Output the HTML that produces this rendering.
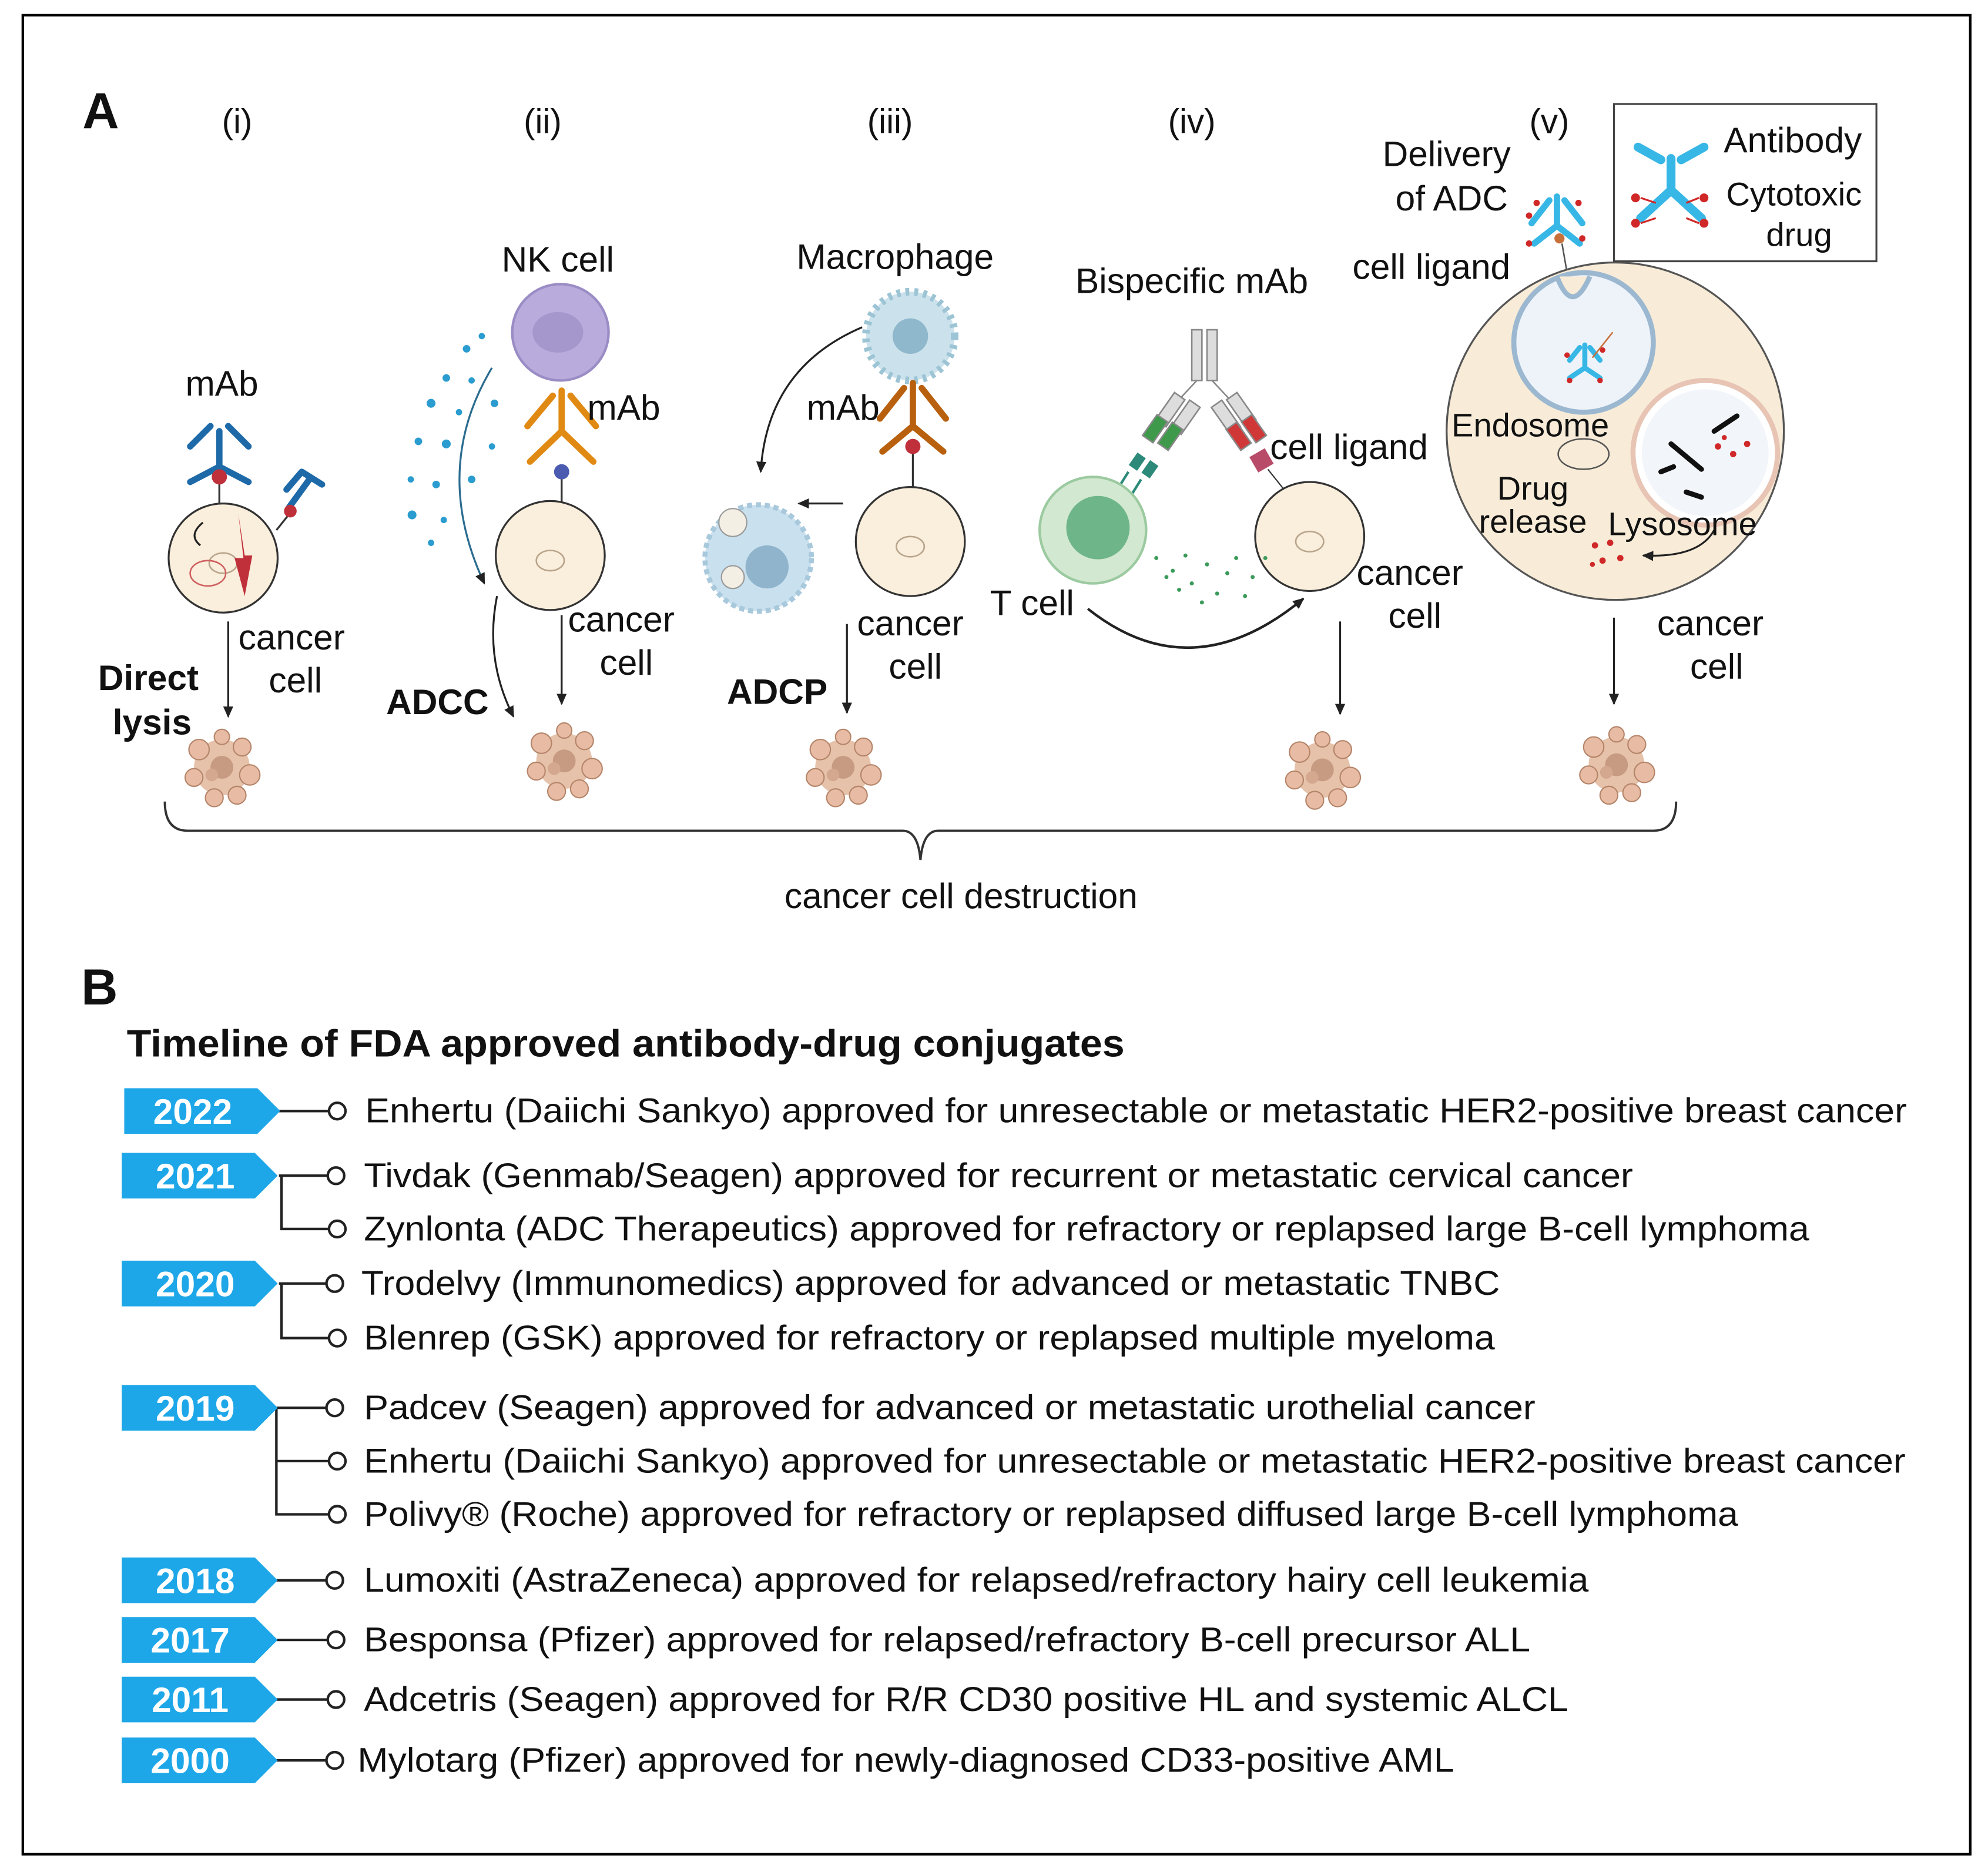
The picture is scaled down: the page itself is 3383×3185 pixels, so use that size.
<!DOCTYPE html>
<html><head><meta charset="utf-8"><style>
html,body{margin:0;padding:0;background:#fff;}
svg{display:block;}
text{font-family:"Liberation Sans",Arial,sans-serif;fill:#111;}
</style></head><body>
<svg width="3383" height="3185" viewBox="0 0 1568 1476" preserveAspectRatio="none" xmlns="http://www.w3.org/2000/svg">
<defs>
<marker id="ah" markerWidth="10" markerHeight="10" refX="8" refY="5" orient="auto" markerUnits="userSpaceOnUse"><path d="M0,1 L9,5 L0,9 z" fill="#222"/></marker>
<g id="blob">
<circle cx="0" cy="0" r="22" fill="#e6c2aa"/>
<circle cx="-18" cy="-14" r="8" fill="#e8bca4" stroke="#b5856a" stroke-width="1"/>
<circle cx="16" cy="-16" r="7" fill="#e8bca4" stroke="#b5856a" stroke-width="1"/>
<circle cx="22" cy="6" r="8" fill="#e8bca4" stroke="#b5856a" stroke-width="1"/>
<circle cx="-22" cy="8" r="7" fill="#e8bca4" stroke="#b5856a" stroke-width="1"/>
<circle cx="-6" cy="24" r="7" fill="#e8bca4" stroke="#b5856a" stroke-width="1"/>
<circle cx="12" cy="22" r="7" fill="#e8bca4" stroke="#b5856a" stroke-width="1"/>
<circle cx="0" cy="-24" r="6" fill="#e8bca4" stroke="#b5856a" stroke-width="1"/>
<circle cx="0" cy="0" r="9" fill="#c79a82"/>
<circle cx="-8" cy="6" r="5" fill="#d4a88f"/>
</g>
<g id="cell">
<circle cx="0" cy="0" r="43" fill="#faeedc" stroke="#333" stroke-width="1.5"/>
<ellipse cx="0" cy="4" rx="11" ry="8" fill="none" stroke="#b8a58c" stroke-width="1.2"/>
</g>
<polygon id="badge" points="0,0 105,0 123,18 105,36 0,36" fill="#1ea7e8"/>
</defs>
<rect x="18" y="12" width="1536" height="1450" fill="#fff" stroke="#000" stroke-width="2"/>

<text x="65" y="101" font-size="40" font-weight="bold">A</text>
<g font-size="27" text-anchor="middle">
<text x="187" y="105">(i)</text><text x="428" y="105">(ii)</text><text x="702" y="105">(iii)</text><text x="940" y="105">(iv)</text><text x="1222" y="105">(v)</text>
</g>

<!-- panel i -->
<text x="175" y="312" font-size="28" text-anchor="middle">mAb</text>
<g stroke="#1e6aa8" stroke-width="5" fill="none" stroke-linecap="round">
<path d="M173,368 L173,340 M173,368 L150,380 M173,368 L196,380 M166,336 L150,352 M180,336 L196,352"/>
<path d="M228,400 L244,378 M238,372 L254,382 M226,386 L238,372"/>
</g>
<line x1="173" y1="372" x2="173" y2="398" stroke="#333" stroke-width="1.5"/>
<circle cx="173" cy="376" r="6" fill="#c0303a"/>
<use href="#cell" x="176" y="440"/>
<line x1="218" y1="418" x2="230" y2="403" stroke="#333" stroke-width="1.5"/>
<circle cx="229" cy="403" r="5" fill="#c0303a"/>
<path d="M188,405 L192,440 L185,440 L193,470 L199,438 L193,438 Z" fill="#c0303a"/>
<ellipse cx="164" cy="452" rx="14" ry="10" fill="none" stroke="#d06060" stroke-width="1.2"/>
<path d="M160,412 q-12,10 -2,18" fill="none" stroke="#222" stroke-width="1.5"/>
<line x1="180" y1="490" x2="180" y2="565" stroke="#222" stroke-width="1.5" marker-end="url(#ah)"/>
<text x="230" y="512" font-size="28" text-anchor="middle">cancer</text>
<text x="233" y="546" font-size="28" text-anchor="middle">cell</text>
<text x="117" y="544" font-size="28" font-weight="bold" text-anchor="middle">Direct</text>
<text x="120" y="579" font-size="28" font-weight="bold" text-anchor="middle">lysis</text>
<use href="#blob" x="175" y="605"/>

<!-- panel ii -->
<text x="440" y="214" font-size="28" text-anchor="middle">NK cell</text>
<circle cx="442" cy="262" r="38" fill="#b9acdc" stroke="#9a8cc4" stroke-width="2"/>
<ellipse cx="440" cy="262" rx="20" ry="16" fill="#a596cc"/>
<g stroke="#e08a14" stroke-width="5" fill="none" stroke-linecap="round">
<path d="M443,340 L443,308 M443,340 L418,364 M443,340 L468,364 M436,312 L416,336 M450,312 L470,336"/>
</g>
<line x1="443" y1="372" x2="443" y2="398" stroke="#333" stroke-width="1.5"/>
<circle cx="443" cy="372" r="6" fill="#4a5bb0"/>
<text x="492" y="331" font-size="28" text-anchor="middle">mAb</text>
<use href="#cell" x="434" y="438"/>
<g fill="#2a9ccf">
<circle cx="368" cy="275" r="3"/><circle cx="380" cy="265" r="2.5"/><circle cx="352" cy="298" r="3"/><circle cx="372" cy="300" r="2.5"/><circle cx="340" cy="318" r="3.5"/><circle cx="362" cy="325" r="2.5"/><circle cx="330" cy="348" r="3"/><circle cx="352" cy="350" r="3.5"/><circle cx="324" cy="378" r="2.5"/><circle cx="344" cy="382" r="3"/><circle cx="372" cy="378" r="3"/><circle cx="325" cy="406" r="3.5"/><circle cx="350" cy="410" r="2.5"/><circle cx="340" cy="428" r="2.5"/><circle cx="390" cy="318" r="3"/><circle cx="388" cy="352" r="2.5"/>
</g>
<path d="M388,290 Q340,370 382,460" fill="none" stroke="#2b6c8f" stroke-width="1.5" marker-end="url(#ah)"/>
<path d="M392,470 Q382,520 405,565" fill="none" stroke="#222" stroke-width="1.5" marker-end="url(#ah)"/>
<line x1="443" y1="485" x2="443" y2="555" stroke="#222" stroke-width="1.5" marker-end="url(#ah)"/>
<text x="490" y="498" font-size="28" text-anchor="middle">cancer</text>
<text x="494" y="532" font-size="28" text-anchor="middle">cell</text>
<text x="345" y="563" font-size="28" font-weight="bold" text-anchor="middle">ADCC</text>
<use href="#blob" x="445" y="600"/>

<!-- panel iii -->
<text x="706" y="212" font-size="28" text-anchor="middle">Macrophage</text>
<circle cx="718" cy="265" r="35" fill="#cbe2ec" stroke="#9cc4d4" stroke-width="6" stroke-dasharray="3 4"/>
<circle cx="718" cy="265" r="14" fill="#8fb8cc"/>
<text x="665" y="331" font-size="28" text-anchor="middle">mAb</text>
<g stroke="#b8600e" stroke-width="5" fill="none" stroke-linecap="round">
<path d="M720,336 L720,302 M720,336 L696,356 M720,336 L744,356 M713,306 L694,330 M727,306 L746,330"/>
</g>
<line x1="720" y1="352" x2="720" y2="385" stroke="#333" stroke-width="1.5"/>
<circle cx="720" cy="352" r="6" fill="#c0303a"/>
<use href="#cell" x="718" y="427"/>
<line x1="665" y1="397" x2="630" y2="397" stroke="#222" stroke-width="1.5" marker-end="url(#ah)"/>
<circle cx="598" cy="440" r="42" fill="#c9e0ee" stroke="#a8c8dc" stroke-width="4" stroke-dasharray="4 3"/>
<circle cx="605" cy="447" r="17" fill="#8fb4cc"/>
<circle cx="578" cy="412" r="11" fill="#f4efe4" stroke="#999"/>
<circle cx="578" cy="455" r="9" fill="#f4efe4" stroke="#999"/>
<path d="M680,258 Q605,290 600,372" fill="none" stroke="#222" stroke-width="1.5" marker-end="url(#ah)"/>
<line x1="668" y1="492" x2="668" y2="562" stroke="#222" stroke-width="1.5" marker-end="url(#ah)"/>
<text x="718" y="501" font-size="28" text-anchor="middle">cancer</text>
<text x="722" y="535" font-size="28" text-anchor="middle">cell</text>
<text x="613" y="555" font-size="28" font-weight="bold" text-anchor="middle">ADCP</text>
<use href="#blob" x="665" y="605"/>

<!-- panel iv -->
<text x="940" y="231" font-size="28" text-anchor="middle">Bispecific mAb</text>
<g stroke="#888" stroke-width="1.2">
<rect x="940" y="260" width="8" height="40" fill="#ddd"/><rect x="952" y="260" width="8" height="40" fill="#ddd"/>
<path d="M944,300 L930,315 M956,300 L970,315" fill="none"/>
<rect x="918" y="310" width="10" height="26" fill="#ddd" transform="rotate(35 923 323)"/>
<rect x="930" y="316" width="10" height="26" fill="#ddd" transform="rotate(35 935 329)"/>
<rect x="906" y="328" width="10" height="20" fill="#3e9a4a" transform="rotate(35 911 338)"/>
<rect x="918" y="334" width="10" height="20" fill="#3e9a4a" transform="rotate(35 923 344)"/>
<rect x="962" y="316" width="10" height="26" fill="#ddd" transform="rotate(-35 967 329)"/>
<rect x="974" y="310" width="10" height="26" fill="#ddd" transform="rotate(-35 979 323)"/>
<rect x="972" y="334" width="10" height="20" fill="#d03838" transform="rotate(-35 977 344)"/>
<rect x="984" y="328" width="10" height="20" fill="#d03838" transform="rotate(-35 989 338)"/>
</g>
<g fill="#2d8a7a"><rect x="893" y="358" width="8" height="12" transform="rotate(35 897 364)"/><rect x="903" y="364" width="8" height="12" transform="rotate(35 907 370)"/></g>
<path d="M890,372 L880,388 M900,378 L890,394" stroke="#2d8a7a" stroke-width="2"/>
<rect x="988" y="356" width="14" height="14" fill="#b84b68" transform="rotate(-30 995 363)"/>
<line x1="1000" y1="370" x2="1012" y2="385" stroke="#333"/>
<circle cx="862" cy="418" r="42" fill="#d2e8d0" stroke="#9ccaa0" stroke-width="2"/>
<circle cx="866" cy="416" r="25" fill="#6fb58a"/>
<use href="#cell" x="1033" y="423"/>
<text x="1064" y="362" font-size="28" text-anchor="middle">cell ligand</text>
<g fill="#3a9a5a"><circle cx="912" cy="440" r="1.6"/><circle cx="925" cy="450" r="1.6"/><circle cx="935" cy="438" r="1.6"/><circle cx="940" cy="460" r="1.6"/><circle cx="952" cy="445" r="1.6"/><circle cx="960" cy="468" r="1.6"/><circle cx="968" cy="452" r="1.6"/><circle cx="975" cy="440" r="1.6"/><circle cx="982" cy="470" r="1.6"/><circle cx="988" cy="455" r="1.6"/><circle cx="948" cy="475" r="1.6"/><circle cx="930" cy="465" r="1.6"/><circle cx="920" cy="455" r="1.6"/><circle cx="998" cy="440" r="1.6"/></g>
<path d="M858,480 Q940,545 1028,472" fill="none" stroke="#222" stroke-width="2" marker-end="url(#ah)"/>
<text x="814" y="485" font-size="28" text-anchor="middle">T cell</text>
<text x="1112" y="461" font-size="28" text-anchor="middle">cancer</text>
<text x="1116" y="495" font-size="28" text-anchor="middle">cell</text>
<line x1="1057" y1="490" x2="1057" y2="563" stroke="#222" stroke-width="1.5" marker-end="url(#ah)"/>
<use href="#blob" x="1043" y="607"/>

<!-- panel v -->
<text x="1141" y="131" font-size="28" text-anchor="middle">Delivery</text>
<text x="1145" y="166" font-size="28" text-anchor="middle">of ADC</text>
<text x="1129" y="220" font-size="28" text-anchor="middle">cell ligand</text>
<g stroke="#37b7e6" stroke-width="5" fill="none" stroke-linecap="round">
<path d="M1228,178 L1228,155 M1228,178 L1210,192 M1228,178 L1246,192 M1222,158 L1208,176 M1234,158 L1248,176"/>
</g>
<g fill="#d02828"><circle cx="1206" cy="170" r="2.5"/><circle cx="1212" cy="160" r="2.5"/><circle cx="1245" cy="160" r="2.5"/><circle cx="1206" cy="192" r="2.5"/><circle cx="1248" cy="188" r="2.5"/></g>
<circle cx="1230" cy="188" r="4" fill="#c8703a"/>
<line x1="1232" y1="192" x2="1236" y2="215" stroke="#555" stroke-width="1.2"/>
<circle cx="1274" cy="340" r="133" fill="#f8ecd8" stroke="#555" stroke-width="1.5"/>
<circle cx="1249" cy="270" r="55" fill="#eef3fa" stroke="#9cb8d0" stroke-width="4"/>
<path d="M1228,218 Q1240,250 1254,218" fill="#f8ecd8" stroke="#9cb8d0" stroke-width="4"/>
<g stroke="#37b7e6" stroke-width="4" fill="none" stroke-linecap="round"><path d="M1250,290 L1250,272 M1250,290 L1238,298 M1250,290 L1262,298 M1246,274 L1238,284 M1254,274 L1262,284"/></g>
<g fill="#d02828"><circle cx="1236" cy="280" r="2.2"/><circle cx="1264" cy="276" r="2.2"/><circle cx="1238" cy="300" r="2.2"/><circle cx="1262" cy="300" r="2.2"/></g>
<line x1="1256" y1="282" x2="1272" y2="262" stroke="#c8703a" stroke-width="1.2"/>
<circle cx="1345" cy="357" r="57" fill="#fff" stroke="#e8c4b4" stroke-width="4"/>
<circle cx="1345" cy="357" r="50" fill="#f2f6fa"/>
<g stroke="#111" stroke-width="4" stroke-linecap="round"><line x1="1352" y1="340" x2="1370" y2="328"/><line x1="1318" y1="350" x2="1342" y2="370"/><line x1="1310" y1="372" x2="1320" y2="368"/><line x1="1330" y1="388" x2="1342" y2="392"/></g>
<g fill="#d02828"><circle cx="1355" cy="352" r="2.5"/><circle cx="1367" cy="358" r="2.5"/><circle cx="1378" cy="350" r="2.5"/><circle cx="1360" cy="345" r="2"/><circle cx="1258" cy="430" r="2.5"/><circle cx="1270" cy="428" r="2.5"/><circle cx="1264" cy="442" r="2.5"/><circle cx="1278" cy="440" r="2.5"/><circle cx="1256" cy="445" r="2"/></g>
<ellipse cx="1249" cy="358" rx="20" ry="12" fill="#f8ecd8" stroke="#555" stroke-width="1.2"/>
<path d="M1352,418 Q1340,440 1296,438" fill="none" stroke="#222" stroke-width="1.5" marker-end="url(#ah)"/>
<text x="1207" y="344" font-size="26" text-anchor="middle">Endosome</text>
<text x="1209" y="394" font-size="26" text-anchor="middle">Drug</text>
<text x="1209" y="420" font-size="26" text-anchor="middle">release</text>
<text x="1327" y="422" font-size="26" text-anchor="middle">Lysosome</text>
<rect x="1273" y="82" width="207" height="124" fill="#fff" stroke="#444" stroke-width="1.5"/>
<g stroke="#37b7e6" stroke-width="7" fill="none" stroke-linecap="round">
<path d="M1318,150 L1318,125 M1318,150 L1294,172 M1318,150 L1342,172 M1310,126 L1292,116 M1326,126 L1344,116"/>
</g>
<g fill="#d02828"><circle cx="1290" cy="156" r="3.5"/><circle cx="1290" cy="176" r="3.5"/><circle cx="1344" cy="156" r="3.5"/><circle cx="1344" cy="176" r="3.5"/></g>
<g stroke="#d02828" stroke-width="1.5"><line x1="1294" y1="156" x2="1306" y2="160"/><line x1="1294" y1="176" x2="1306" y2="172"/><line x1="1340" y1="156" x2="1330" y2="160"/><line x1="1340" y1="176" x2="1330" y2="172"/></g>
<text x="1414" y="120" font-size="28" text-anchor="middle">Antibody</text>
<text x="1415" y="162" font-size="26" text-anchor="middle">Cytotoxic</text>
<text x="1419" y="194" font-size="26" text-anchor="middle">drug</text>
<text x="1349" y="501" font-size="28" text-anchor="middle">cancer</text>
<text x="1354" y="535" font-size="28" text-anchor="middle">cell</text>
<line x1="1273" y1="487" x2="1273" y2="555" stroke="#222" stroke-width="1.5" marker-end="url(#ah)"/>
<use href="#blob" x="1275" y="603"/>

<path d="M130,632 Q130,655 148,655 L712,655 Q724,655 726,678 Q728,655 740,655 L1304,655 Q1322,655 1322,632" fill="none" stroke="#333" stroke-width="1.8"/>
<text x="758" y="716" font-size="28" text-anchor="middle">cancer cell destruction</text>

<text x="64" y="792" font-size="40" font-weight="bold">B</text>
<text x="100" y="833" font-size="30" font-weight="bold" textLength="787" lengthAdjust="spacingAndGlyphs">Timeline of FDA approved antibody-drug conjugates</text>

<g stroke="#222" stroke-width="2" fill="#fff">
<line x1="220" y1="876" x2="259" y2="876"/>
<path d="M220,927 L259,927 M222,927 L222,969 L259,969" fill="none"/>
<path d="M220,1012 L258,1012 M222,1012 L222,1055 L259,1055" fill="none"/>
<path d="M218,1110 L258,1110 M218,1110 L218,1194 L259,1194 M218,1152 L259,1152" fill="none"/>
<line x1="218" y1="1246" x2="258" y2="1246"/>
<line x1="218" y1="1293" x2="259" y2="1293"/>
<line x1="218" y1="1340" x2="259" y2="1340"/>
<line x1="218" y1="1388" x2="258" y2="1388"/>
<circle cx="266" cy="876" r="6.5"/><circle cx="265" cy="927" r="6.5"/><circle cx="266" cy="969" r="6.5"/>
<circle cx="264" cy="1012" r="6.5"/><circle cx="266" cy="1055" r="6.5"/>
<circle cx="264" cy="1110" r="6.5"/><circle cx="266" cy="1152" r="6.5"/><circle cx="266" cy="1194" r="6.5"/>
<circle cx="264" cy="1246" r="6.5"/><circle cx="265" cy="1293" r="6.5"/><circle cx="265" cy="1340" r="6.5"/><circle cx="264" cy="1388" r="6.5"/>
</g>
<g>
<use href="#badge" x="98" y="858"/><use href="#badge" x="96" y="909"/><use href="#badge" x="96" y="994"/><use href="#badge" x="96" y="1092"/>
<use href="#badge" x="96" y="1228"/><use href="#badge" x="96" y="1275"/><use href="#badge" x="96" y="1322"/><use href="#badge" x="96" y="1370"/>
</g>
<g font-size="28" font-weight="bold" text-anchor="middle">
<text x="152" y="886" style="fill:#fff">2022</text><text x="154" y="937" style="fill:#fff">2021</text><text x="154" y="1022" style="fill:#fff">2020</text><text x="154" y="1120" style="fill:#fff">2019</text>
<text x="154" y="1256" style="fill:#fff">2018</text><text x="150" y="1303" style="fill:#fff">2017</text><text x="150" y="1350" style="fill:#fff">2011</text><text x="150" y="1398" style="fill:#fff">2000</text>
</g>
<g font-size="27">
<text x="288" y="885" textLength="1216" lengthAdjust="spacingAndGlyphs">Enhertu (Daiichi Sankyo) approved for unresectable or metastatic HER2-positive breast cancer</text>
<text x="287" y="936" textLength="1001" lengthAdjust="spacingAndGlyphs">Tivdak (Genmab/Seagen) approved for recurrent or metastatic cervical cancer</text>
<text x="287" y="978" textLength="1140" lengthAdjust="spacingAndGlyphs">Zynlonta (ADC Therapeutics) approved for refractory or replapsed large B-cell lymphoma</text>
<text x="285" y="1021" textLength="898" lengthAdjust="spacingAndGlyphs">Trodelvy (Immunomedics) approved for advanced or metastatic TNBC</text>
<text x="287" y="1064" textLength="892" lengthAdjust="spacingAndGlyphs">Blenrep (GSK) approved for refractory or replapsed multiple myeloma</text>
<text x="287" y="1119" textLength="924" lengthAdjust="spacingAndGlyphs">Padcev (Seagen) approved for advanced or metastatic urothelial cancer</text>
<text x="287" y="1161" textLength="1216" lengthAdjust="spacingAndGlyphs">Enhertu (Daiichi Sankyo) approved for unresectable or metastatic HER2-positive breast cancer</text>
<text x="287" y="1203" textLength="1084" lengthAdjust="spacingAndGlyphs">Polivy® (Roche) approved for refractory or replapsed diffused large B-cell lymphoma</text>
<text x="287" y="1255" textLength="966" lengthAdjust="spacingAndGlyphs">Lumoxiti (AstraZeneca) approved for relapsed/refractory hairy cell leukemia</text>
<text x="287" y="1302" textLength="920" lengthAdjust="spacingAndGlyphs">Besponsa (Pfizer) approved for relapsed/refractory B-cell precursor ALL</text>
<text x="287" y="1349" textLength="950" lengthAdjust="spacingAndGlyphs">Adcetris (Seagen) approved for R/R CD30 positive HL and systemic ALCL</text>
<text x="282" y="1397" textLength="865" lengthAdjust="spacingAndGlyphs">Mylotarg (Pfizer) approved for newly-diagnosed CD33-positive AML</text>
</g>
</svg>
</body></html>
